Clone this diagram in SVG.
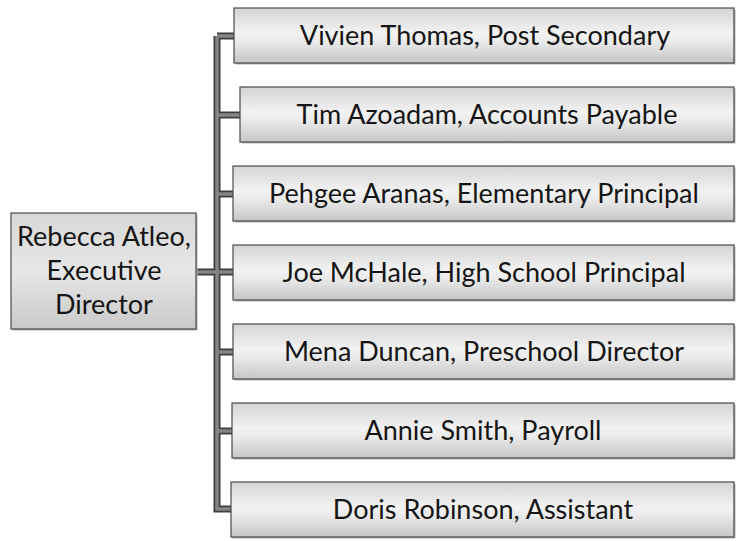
<svg xmlns="http://www.w3.org/2000/svg" width="736" height="541" viewBox="0 0 736 541">
<defs>
<linearGradient id="g" x1="0" y1="0" x2="0" y2="1">
<stop offset="0" stop-color="#d4d4d4"/>
<stop offset="0.45" stop-color="#f2f2f2"/>
<stop offset="0.6" stop-color="#ebebeb"/>
<stop offset="1" stop-color="#c6c6c6"/>
</linearGradient>
<linearGradient id="gr" x1="0" y1="0" x2="0" y2="1">
<stop offset="0" stop-color="#d8d8d8"/>
<stop offset="0.5" stop-color="#e6e6e6"/>
<stop offset="1" stop-color="#cacaca"/>
</linearGradient>
</defs>
<style>
.box{fill:url(#g);stroke:#4a4a4a;stroke-width:1.2}
.rbox{fill:url(#gr);stroke:#4a4a4a;stroke-width:1.2}
.sh{fill:#b4b4b4}
.t{font-family:Lato,"Noto Sans",sans-serif;font-size:27px;fill:#151515;text-anchor:middle}
.c1{fill:none;stroke:#3e3e3e;stroke-width:7}
.c2{fill:none;stroke:#858585;stroke-width:3.5}
</style>
<rect width="736" height="541" fill="#ffffff"/>
<g id="connectors">
<path class="c1" d="M217 36 H234 M217 36 V509 H233 M217 115 H240 M217 194 H233 M196 272 H233 M217 352 H233 M217 431 H233"/>
<path class="c2" d="M217 36 H234 M217 36 V509 H233 M217 115 H240 M217 194 H233 M196 272 H233 M217 352 H233 M217 431 H233"/>
</g>
<g id="root">
<rect class="sh" x="12.5" y="214.5" width="185" height="116"/>
<rect class="rbox" x="11" y="213" width="185" height="116"/>
<text class="t" x="104" y="246">Rebecca Atleo,</text>
<text class="t" x="104" y="280">Executive</text>
<text class="t" x="104" y="314">Director</text>
</g>
<g id="n1">
<rect class="sh" x="235.5" y="9.5" width="500" height="55"/>
<rect class="box" x="234" y="8" width="500" height="55"/>
<text class="t" x="485" y="45">Vivien Thomas, Post Secondary</text>
</g>
<g id="n2">
<rect class="sh" x="241.5" y="88.5" width="494" height="55"/>
<rect class="box" x="240" y="87" width="494" height="55"/>
<text class="t" x="487" y="124">Tim Azoadam, Accounts Payable</text>
</g>
<g id="n3">
<rect class="sh" x="234.5" y="167.5" width="501" height="55"/>
<rect class="box" x="233" y="166" width="501" height="55"/>
<text class="t" x="484" y="203">Pehgee Aranas, Elementary Principal</text>
</g>
<g id="n4">
<rect class="sh" x="234.5" y="246.5" width="501" height="55"/>
<rect class="box" x="233" y="245" width="501" height="55"/>
<text class="t" x="484" y="282">Joe McHale, High School Principal</text>
</g>
<g id="n5">
<rect class="sh" x="234.5" y="325.5" width="501" height="55"/>
<rect class="box" x="233" y="324" width="501" height="55"/>
<text class="t" x="484" y="361">Mena Duncan, Preschool Director</text>
</g>
<g id="n6">
<rect class="sh" x="233.5" y="404.5" width="502" height="55"/>
<rect class="box" x="232" y="403" width="502" height="55"/>
<text class="t" x="483" y="440">Annie Smith, Payroll</text>
</g>
<g id="n7">
<rect class="sh" x="232.5" y="483.5" width="503" height="55"/>
<rect class="box" x="231" y="482" width="503" height="55"/>
<text class="t" x="483" y="519">Doris Robinson, Assistant</text>
</g>
</svg>
